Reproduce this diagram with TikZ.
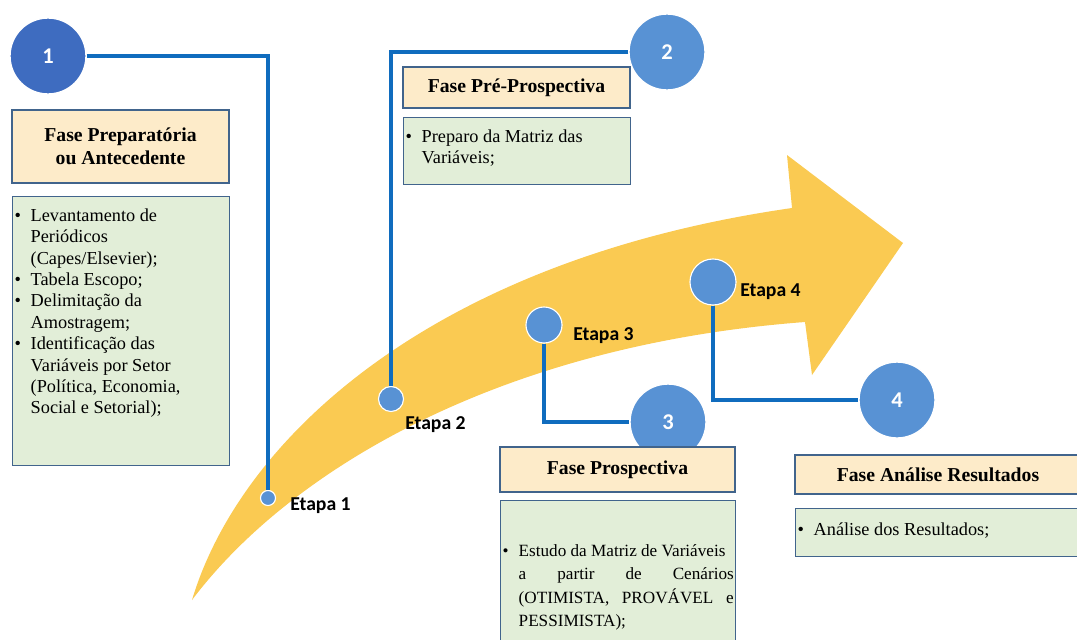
\documentclass[tikz,border=0pt]{standalone}
\usepackage{fontspec}
\setmainfont{Liberation Serif}
\newfontfamily\etapafont{Carlito}
\usepackage{xcolor}

\definecolor{arrowyellow}{RGB}{250,202,82}
\definecolor{headfill}{RGB}{253,235,201}
\definecolor{listfill}{RGB}{226,238,216}
\definecolor{boxline}{RGB}{65,100,140}
\definecolor{numdark}{RGB}{62,108,192}
\definecolor{numblue}{RGB}{88,146,212}
\definecolor{linkblue}{RGB}{16,108,190}

\newcommand{\itembul}{\par\noindent\hangindent=0.4cm\hangafter=1\makebox[0.4cm][l]{\textbullet}}

\tikzset{
	headbox/.style={draw=boxline, line width=1pt, fill=headfill, align=center, inner sep=0pt, font=\fontsize{14}{16.5}\selectfont\bfseries},
	listbox/.style={draw=boxline, line width=1pt, fill=listfill, anchor=north west, inner xsep=0.05cm, inner ysep=0.3cm, font=\fontsize{13}{15.2}\selectfont},
	numcircle/.style={circle, fill=numblue, draw=white, line width=1pt, minimum size=1.9cm, inner sep=0pt, text=white, font=\etapafont\fontsize{16}{16}\selectfont\bfseries},
	etapadot/.style={circle, fill=numblue, draw=white, line width=0.8pt, inner sep=0pt},
	etapalabel/.style={anchor=west, inner sep=0pt, font=\etapafont\fontsize{14}{14}\selectfont\bfseries},
	link/.style={draw=linkblue, line width=3.4pt}
}

\begin{document}
\begin{tikzpicture}[x=0.025cm, y=-0.025cm]
	\useasboundingbox (0,0) rectangle (1077,639);
	% Arrow:
	\fill[arrowyellow] (192,600) .. controls (240,440) and (430,260) .. (792,208) -- (787,155) -- (903,243) -- (812,375) -- (805,322) .. controls (500,345) and (290,470) .. (192,600) -- cycle;
	% Circles, stages and labels:
	\node[numcircle, fill=numdark] (c1) at (48,56) {1};
	\node[numcircle] (c2) at (667,52) {2};
	\node[numcircle] (c3) at (668,422) {3};
	\node[numcircle] (c4) at (897,400) {4};
	\node[etapadot, minimum size=0.375cm] (e1) at (268,498) {};
	\node[etapadot, minimum size=0.625cm] (e2) at (391,399) {};
	\node[etapadot, minimum size=0.9cm] (e3) at (544,325) {};
	\node[etapadot, minimum size=1.15cm] (e4) at (713,282) {};
	\node[etapalabel] (l1) at (290,506) {Etapa 1};
	\node[etapalabel] (l2) at (405,425) {Etapa 2};
	\node[etapalabel] (l3) at (573,336) {Etapa 3};
	\node[etapalabel] (l4) at (740,292) {Etapa 4};
	% Wires:
	\draw[link] (c1.east) -| (e1.north);
	\draw[link] (c2.west) -| (e2.north);
	\draw[link] (e3.south) |- (c3.west);
	\draw[link] (e4.south) |- (c4.west);
	% Boxes:
	\node[headbox, minimum width=5.425cm, minimum height=1.825cm] (h1) at (120.5,146.5) {Fase Preparatória\\ou Antecedente};
	\node[listbox] (b1) at (12,196) {\parbox[c][6.125cm][t]{5.325cm}{\raggedright
		\itembul Levantamento de\newline Periódicos\newline (Capes/Elsevier);
		\itembul Tabela Escopo;
		\itembul Delimitação da\newline Amostragem;
		\itembul Identificação das\newline Variáveis por Setor\newline (Política, Economia,\newline Social e Setorial);}};
	\node[headbox, minimum width=5.675cm, minimum height=1.025cm] (h2) at (516.5,87.5) {Fase Pré-Prospectiva};
	\node[listbox] (b2) at (403,117) {\parbox[c][1.075cm][t]{5.575cm}{\raggedright
		\itembul Preparo da Matriz das\newline Variáveis;}};
	\node[headbox, minimum width=5.875cm, minimum height=1.125cm] (h3) at (617.5,469.5) {Fase Prospectiva};
	\node[listbox] (b3) at (500,500) {\fontsize{12.2}{16.5}\selectfont\parbox[c][3.4cm][t]{5.775cm}{\vspace*{0.8cm}
		\itembul Estudo da Matriz de Variáveis\newline a\hfill partir\hfill de\hfill Cenários\newline (OTIMISTA,\hfill PROVÁVEL\hfill e\newline PESSIMISTA);}};
	\node[headbox, minimum width=7.15cm, minimum height=0.975cm] (h4) at (938,474.5) {Fase Análise Resultados};
	\node[listbox, inner ysep=0.35cm] (b4) at (795,508) {\parbox[c][0.5cm][t]{7.05cm}{\raggedright
		\itembul Análise dos Resultados;}};
\end{tikzpicture}
\end{document}
